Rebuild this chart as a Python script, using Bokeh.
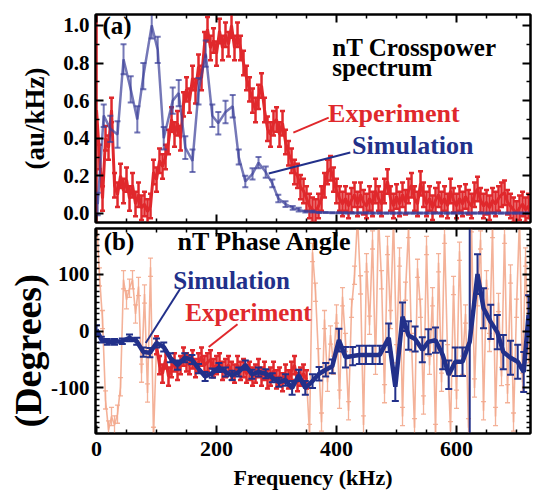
from bokeh.plotting import figure
from bokeh.layouts import column
from bokeh.models import (Range1d, LinearAxis, FixedTicker, Label, Title,
                          PrintfTickFormatter, CustomJSTickFormatter)
from bokeh.embed import file_html
from bokeh.resources import INLINE

FONT = "Times"
RED = "#e0282c"
NAVY = "#22308a"
SIMLIGHT = "#3a3e98"
SALMON = "#f3aa8e"

# ---------------- data: panel (a) crosspower ----------------
exp_top_f = [0, 5, 10, 15, 20, 25, 30, 35, 40, 45, 50, 55, 60, 65, 70, 75, 80, 85, 90, 95,
             100, 105, 110, 115, 120, 125, 130, 135, 140, 145, 150, 155, 160, 165, 170, 175, 180, 185, 190, 195,
             200, 205, 210, 215, 220, 225, 230, 235, 240, 245, 250, 255, 260, 265, 270, 275, 280, 285, 290, 295,
             300, 305, 310, 315, 320, 325, 330, 335, 340, 345, 350, 355, 360, 365, 370, 375, 380, 385, 390, 395,
             400, 405, 410, 415, 420, 425, 430, 435, 440, 445, 450, 455, 460, 465, 470, 475, 480, 485, 490, 495,
             500, 505, 510, 515, 520, 525, 530, 535, 540, 545, 550, 555, 560, 565, 570, 575, 580, 585, 590, 595,
             600, 605, 610, 615, 620, 625, 630, 635, 640, 645, 650, 655, 660, 665, 670, 675, 680, 685, 690, 695,
             700, 705, 710, 715, 720]
exp_top_v = [0.55, 0.30, 0.08, 0.40, 0.35, 0.55, 0.15, 0.10, 0.20, 0.12,
             0.18, 0.08, 0.15, 0.05, 0.10, 0.03, 0.05, 0.01, 0.04, 0.22,
             0.18, 0.28, 0.25, 0.30, 0.38, 0.50, 0.42, 0.48, 0.40, 0.58,
             0.66, 0.60, 0.72, 0.65, 0.78, 0.72, 0.90, 0.98, 0.88, 0.92,
             0.85, 0.97, 0.88, 0.95, 0.90, 1.00, 0.88, 0.95, 0.88, 0.80,
             0.72, 0.66, 0.60, 0.55, 0.62, 0.68, 0.55, 0.45, 0.42, 0.48,
             0.50, 0.42, 0.48, 0.38, 0.32, 0.28, 0.22, 0.20, 0.14, 0.12,
             0.08, 0.04, 0.02, 0.01, 0.04, 0.08, 0.15, 0.22, 0.24, 0.18,
             0.12, 0.08, 0.05, 0.08, 0.04, 0.07, 0.10, 0.05, 0.10, 0.06,
             0.04, 0.08, 0.05, 0.12, 0.08, 0.05, 0.12, 0.17, 0.08, 0.04,
             0.09, 0.05, 0.10, 0.06, 0.12, 0.15, 0.08, 0.05, 0.16, 0.10,
             0.05, 0.08, 0.03, 0.07, 0.10, 0.05, 0.08, 0.04, 0.12, 0.07,
             0.04, 0.08, 0.05, 0.09, 0.06, 0.04, 0.10, 0.13, 0.07, 0.04,
             0.06, 0.03, 0.07, 0.05, 0.08, 0.10, 0.11, 0.06, 0.04, 0.02,
             0.00, 0.03, 0.05, 0.02, 0.04]
exp_top_err = [0.60] + [0.065] * (len(exp_top_v) - 1)

sim_top_f = [2, 12, 23, 35, 45, 57, 68, 78, 92, 102,
             112, 127, 137, 148, 160, 170, 182, 193, 203, 215,
             227, 237, 248, 260, 270, 282, 293, 303, 315, 327,
             337, 348, 360, 371, 382, 393, 404, 415, 427, 438,
             449, 460, 472, 483, 494, 505, 517, 528, 539, 550,
             562, 573, 584, 595, 607, 618, 629, 640, 652, 663,
             674, 685, 697, 708, 719]
sim_top_v = [0.05, 0.52, 0.45, 0.42, 0.82, 0.66, 0.50, 0.73, 1.00, 0.87,
             0.40, 0.60, 0.64, 0.35, 0.28, 0.65, 0.85, 0.52, 0.48, 0.54,
             0.57, 0.30, 0.17, 0.21, 0.27, 0.22, 0.16, 0.08, 0.05, 0.03,
             0.02, 0.01, 0.01, 0.005, 0.005, 0.004, 0.004, 0.003, 0.003, 0.003,
             0.003, 0.002, 0.002, 0.002, 0.002, 0.002, 0.002, 0.002, 0.002, 0.002,
             0.002, 0.002, 0.002, 0.002, 0.002, 0.002, 0.002, 0.002, 0.002, 0.002,
             0.002, 0.002, 0.002, 0.002, 0.002]
sim_top_err = [0.06, 0.06, 0.07, 0.07, 0.08, 0.07, 0.07, 0.07, 0.07, 0.07,
               0.06, 0.07, 0.07, 0.06, 0.06, 0.07, 0.07, 0.06, 0.06, 0.06,
               0.06, 0.04, 0.03, 0.03, 0.03, 0.03, 0.02, 0.02, 0.015, 0.01,
               0.01, 0.005, 0.005, 0.003, 0.003, 0.003, 0.003, 0.003, 0.003, 0.003,
               0.003, 0.003, 0.003, 0.003, 0.003, 0.003, 0.003, 0.003, 0.003, 0.003,
               0.003, 0.003, 0.003, 0.003, 0.003, 0.003, 0.003, 0.003, 0.003, 0.003,
               0.003, 0.003, 0.003, 0.003, 0.003]

# ---------------- data: panel (b) phase ----------------
exp_ph_f = exp_top_f
exp_ph = [200, 95, 20, -121, -174, -150, -165, -146, -98, 90,
          55, 75, 90, 30, 78, -74, 65, -109, 112, -185,
          -25, -60, -75, -50, -80, -65, -55, -70, -60, -45,
          -55, -60, -50, -65, -55, -45, -60, -55, -50, -65,
          -60, -55, -70, -65, -60, -70, -75, -60, -70, -65,
          -75, -70, -80, -75, -65, -80, -70, -85, -80, -70,
          -85, -80, -90, -75, -85, -70, -60, -90, -80, -75,
          -85, -180, 138, 68, -47, -160, 20, -90, -7, -60,
          30, -120, 60, -20, -140, 40, 98, 200, 81, -165,
          120, 10, 160, -60, 200, 90, -110, 150, 20, 200,
          -40, 130, -150, 70, 180, -20, -170, 110, 40, -130,
          150, -60, 60, -180, 120, -90, 170, -40, -175, 80,
          -120, 140, -60, 30, -170, 190, -100, 60, 160, -140,
          90, -20, 180, -150, 50, -80, 170, -110, 100, -160,
          40, 200, -90, 130, -40]
exp_ph_err = 16
coherent_lo, coherent_hi = 100, 350   # range drawn in red

sim_ph_f = [0, 8, 18, 30, 43, 55, 67, 78, 89, 100,
            112, 123, 135, 147, 159, 170, 181, 193, 204, 215,
            226, 237, 248, 259, 270, 282, 293, 304, 315, 326,
            337, 348, 360, 371, 382, 393, 404, 415, 427, 438,
            449, 460, 472, 487, 498, 510, 520, 531, 543, 553,
            565, 577, 587, 598, 610, 622, 635, 645, 657, 668,
            678, 690, 702, 712, 720]
sim_ph = [2, -15, -19, -19, -18, -12, -18, -37, -38, -21,
          -28, -47, -60, -47, -50, -66, -80, -74, -64, -72,
          -78, -72, -60, -76, -72, -75, -82, -90, -86, -100,
          -78, -100, -88, -75, -68, -62, -16, -46, -44, -42,
          -42, -42, -42, -12, -98, 25, -8, -14, -33, -19,
          -16, -42, -77, -54, -54, -19, 100, 40, 16, -2,
          -37, -47, -54, -72, 28]
sim_ph_err = [8, 5, 5, 5, 5, 6, 6, 8, 8, 8,
              8, 8, 8, 8, 8, 8, 8, 8, 8, 8,
              8, 8, 8, 8, 8, 8, 8, 8, 10, 12,
              10, 12, 12, 12, 12, 12, 20, 18, 16, 16,
              16, 16, 16, 25, 25, 25, 25, 22, 22, 22,
              22, 25, 25, 25, 25, 400, 35, 35, 30, 30,
              30, 30, 30, 35, 35]

x_major = [0, 200, 400, 600]
x_minor = [50, 100, 150, 250, 300, 350, 450, 500, 550, 650, 700]
top_y_major = [0.0, 0.2, 0.4, 0.6, 0.8, 1.0]
top_y_minor = [0.1, 0.3, 0.5, 0.7, 0.9]
bot_y_major = [-100, 0, 100]
bot_y_minor = [-170, -160, -150, -140, -130, -120, -110, -90, -80, -70, -60, -50, -40, -30, -20, -10,
               10, 20, 30, 40, 50, 60, 70, 80, 90, 110, 120, 130, 140, 150, 160, 170]


def errbars(p, xs, ys, es, color, lw, cap, alpha=1.0):
    if not isinstance(es, list):
        es = [es] * len(ys)
    lo = [y - e for y, e in zip(ys, es)]
    hi = [y + e for y, e in zip(ys, es)]
    p.segment(x0=xs, y0=lo, x1=xs, y1=hi, line_color=color, line_width=lw, line_alpha=alpha)
    p.scatter(list(xs) + list(xs), lo + hi, marker="dash", size=cap,
              line_color=color, line_width=lw, line_alpha=alpha)


def style_axis(ax, major, minor, labels=True):
    ax.ticker = FixedTicker(ticks=major, minor_ticks=minor)
    ax.axis_line_width = 2
    ax.axis_line_color = "black"
    ax.major_tick_in = 8
    ax.major_tick_out = 0
    ax.minor_tick_in = 4
    ax.minor_tick_out = 0
    ax.major_tick_line_width = 2
    ax.minor_tick_line_width = 1.5
    ax.major_label_text_font = FONT
    ax.major_label_text_font_style = "bold"
    ax.major_label_text_color = "black"
    ax.axis_label_text_color = "black"
    if not labels:
        ax.formatter = CustomJSTickFormatter(code="return ''")
        ax.major_label_text_font_size = "1px"
        ax.major_label_standoff = 0


def make_fig(y0, y1, frame_h, btop, bbot):
    p = figure(frame_width=435, frame_height=frame_h,
               x_range=Range1d(-1.7, 723.3), y_range=Range1d(y0, y1),
               output_backend="svg", toolbar_location=None,
               min_border_left=95, min_border_right=6,
               min_border_top=btop, min_border_bottom=bbot)
    p.grid.visible = False
    p.outline_line_color = "black"
    p.outline_line_width = 2
    return p


def lab(p, x, y, text, color="black", size="25px"):
    p.add_layout(Label(x=x, y=y, text=text, text_font=FONT, text_font_size=size,
                       text_font_style="bold", text_color=color,
                       text_baseline="middle", text_align="left"))


# ---------------- panel (a) ----------------
pa = make_fig(-0.048, 1.058, 208, 14, 3)
style_axis(pa.xaxis[0], x_major, x_minor, labels=False)
style_axis(pa.yaxis[0], top_y_major, top_y_minor)
pa.yaxis[0].formatter = PrintfTickFormatter(format="%.1f")
pa.yaxis[0].major_label_text_font_size = "21px"
pa.yaxis[0].major_label_standoff = 6
pa.yaxis[0].axis_label = "(au/kHz)"
pa.yaxis[0].axis_label_text_font = FONT
pa.yaxis[0].axis_label_text_font_size = "27px"
pa.yaxis[0].axis_label_text_font_style = "bold"
pa.yaxis[0].axis_label_standoff = 10
ax_r = LinearAxis()
style_axis(ax_r, top_y_major, top_y_minor, labels=False)
pa.add_layout(ax_r, "right")
ax_t = LinearAxis()
style_axis(ax_t, x_major, x_minor, labels=False)
pa.add_layout(ax_t, "above")

errbars(pa, exp_top_f, exp_top_v, exp_top_err, RED, 2.5, 5)
pa.line(exp_top_f, exp_top_v, line_color=RED, line_width=3)
errbars(pa, sim_top_f, sim_top_v, sim_top_err, SIMLIGHT, 2, 6, alpha=0.7)
pa.line(sim_top_f, sim_top_v, line_color=SIMLIGHT, line_width=2.5, line_alpha=0.7)

pa.line([328, 387], [0.43, 0.51], line_color=RED, line_width=2)
pa.line([287, 423], [0.213, 0.324], line_color=NAVY, line_width=2)
lab(pa, 10, 1.0, "(a)")
lab(pa, 393, 0.885, "nT Crosspower", size="25px")
lab(pa, 393, 0.775, "spectrum", size="25px")
lab(pa, 386, 0.53, "Experiment", RED, size="26px")
lab(pa, 426, 0.36, "Simulation", NAVY, size="26px")

# ---------------- panel (b) ----------------
pb = make_fig(-180, 180, 205, 3, 0)
style_axis(pb.xaxis[0], x_major, x_minor)
pb.xaxis[0].major_label_text_font_size = "22px"
pb.xaxis[0].major_label_text_line_height = 1.0
pb.xaxis[0].major_label_standoff = 8
pb.xaxis[0].axis_label = "Frequency (kHz)"
pb.xaxis[0].axis_label_text_font = FONT
pb.xaxis[0].axis_label_text_font_size = "22px"
pb.xaxis[0].axis_label_text_font_style = "bold"
pb.xaxis[0].axis_label_text_line_height = 1.0
pb.xaxis[0].axis_label_standoff = 6
style_axis(pb.yaxis[0], bot_y_major, bot_y_minor)
pb.yaxis[0].formatter = PrintfTickFormatter(format="%d")
pb.yaxis[0].major_label_text_font_size = "21px"
pb.yaxis[0].major_label_standoff = 6
pb.add_layout(Title(text="(Degrees)", align="left", offset=6, standoff=0,
                    text_font=FONT, text_font_size="38px", text_font_style="bold",
                    text_color="black"), "left")
bx_r = LinearAxis()
style_axis(bx_r, bot_y_major, bot_y_minor, labels=False)
pb.add_layout(bx_r, "right")
bx_t = LinearAxis()
style_axis(bx_t, x_major, x_minor, labels=False)
pb.add_layout(bx_t, "above")

errbars(pb, exp_ph_f, exp_ph, exp_ph_err, SALMON, 1.3, 5, alpha=0.9)
pb.line(exp_ph_f, exp_ph, line_color=SALMON, line_width=1.6, line_alpha=0.9)

red_f = [f for f in exp_ph_f if coherent_lo <= f <= coherent_hi]
red_v = [v for f, v in zip(exp_ph_f, exp_ph) if coherent_lo <= f <= coherent_hi]
errbars(pb, red_f, red_v, exp_ph_err, RED, 2.5, 5)
pb.line(red_f, red_v, line_color=RED, line_width=3)

errbars(pb, sim_ph_f, sim_ph, sim_ph_err, NAVY, 2, 7)
pb.line(sim_ph_f, sim_ph, line_color=NAVY, line_width=4.5)

pb.line([82, 140], [-21, 75], line_color=NAVY, line_width=2)
pb.line([187, 235], [-28, 12], line_color=RED, line_width=2)
lab(pb, 12, 158, "(b)")
lab(pb, 135, 158, "nT Phase Angle", size="26px")
lab(pb, 128, 88, "Simulation", NAVY)
lab(pb, 148, 32, "Experiment", RED)

layout = column(pa, pb, spacing=0)
open("out.html", "w").write(file_html(layout, INLINE))
